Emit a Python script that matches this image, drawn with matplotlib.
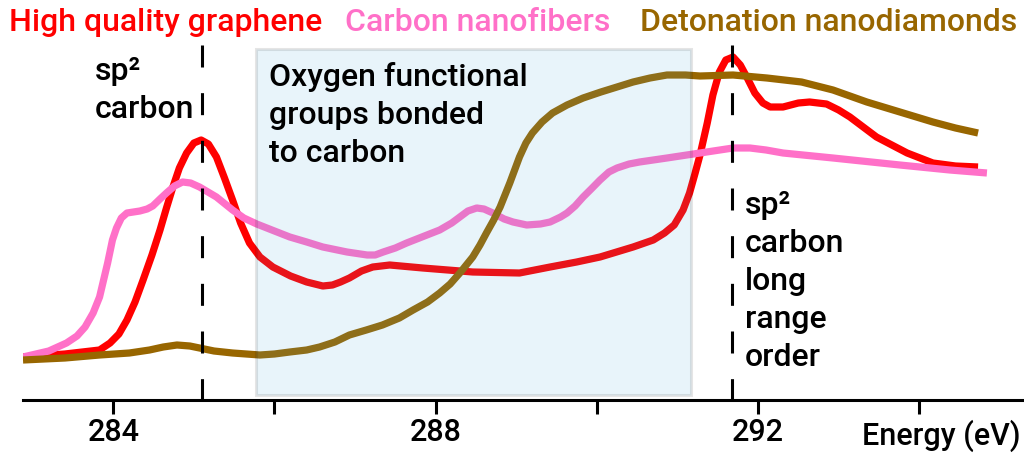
import matplotlib
matplotlib.use("Agg")
import matplotlib.pyplot as plt
from matplotlib.patches import Rectangle

# --- data (energy in eV, intensity in arbitrary units) ---
graphene_e = [282.88, 283.40, 283.83, 283.96, 284.07, 284.17, 284.27, 284.37, 284.48,
              284.58, 284.66, 284.74, 284.82, 284.91, 285.00, 285.09, 285.18, 285.28,
              285.38, 285.48, 285.58, 285.69, 285.82, 285.98, 286.20, 286.40, 286.60,
              286.72, 286.82, 286.93, 287.08, 287.22, 287.43, 287.84, 288.46, 289.04,
              289.42, 289.75, 290.04, 290.45, 290.70, 290.84, 290.96, 291.07, 291.15,
              291.22, 291.28, 291.37, 291.44, 291.52, 291.60, 291.69, 291.78, 291.86,
              291.96, 292.06, 292.15, 292.31, 292.50, 292.64, 292.85, 293.00, 293.14,
              293.47, 293.85, 294.17, 294.45, 294.73]
graphene_i = [43, 46, 50, 57, 66, 80, 98, 120, 145,
              170, 192, 213, 232, 247, 257, 260, 256, 243,
              222, 200, 177, 157, 143, 133, 124, 118, 114,
              115, 118, 122, 129, 133, 135, 132, 128, 127,
              133, 138, 143, 153, 160, 167, 175, 190, 207,
              227, 245, 277, 305, 328, 340, 343, 335, 323,
              307, 297, 293, 293, 297, 298, 296, 290, 283,
              263, 247, 237, 234, 233]

nanofiber_e = [282.88, 283.20, 283.42, 283.55, 283.65, 283.75, 283.83, 283.88, 283.93,
               283.99, 284.04, 284.10, 284.17, 284.25, 284.33, 284.42, 284.49, 284.58,
               284.66, 284.76, 284.86, 284.96, 285.07, 285.28, 285.48, 285.62, 285.78,
               286.00, 286.19, 286.40, 286.60, 286.90, 287.15, 287.25, 287.35, 287.50,
               287.64, 288.05, 288.20, 288.30, 288.40, 288.51, 288.60, 288.71, 288.85,
               288.96, 289.13, 289.30, 289.42, 289.55, 289.63, 289.73, 289.83, 289.93,
               290.04, 290.15, 290.25, 290.40, 290.53, 290.87, 291.28, 291.69, 291.90,
               292.10, 292.31, 292.93, 293.76, 294.38, 294.84]
nanofiber_i = [43, 49, 57, 64, 73, 87, 103, 120, 137,
               160, 172, 182, 187, 188, 189, 191, 194, 201,
               207, 214, 218, 217, 213, 203, 190, 182, 176,
               169, 163, 158, 153, 148, 145, 145, 148, 152,
               157, 170, 177, 183, 189, 192, 191, 187, 181,
               178, 175, 176, 178, 183, 187, 194, 203, 211,
               220, 228, 232, 236, 238, 242, 247, 252, 252,
               250, 247, 242, 235, 230, 227]

diamond_e = [282.88, 283.40, 283.83, 284.20, 284.45, 284.62, 284.79, 284.95, 285.07,
             285.25, 285.48, 285.82, 286.00, 286.19, 286.40, 286.56, 286.75, 286.93,
             287.14, 287.34, 287.55, 287.72, 287.90, 288.05, 288.18, 288.30, 288.38,
             288.46, 288.55, 288.63, 288.72, 288.80, 288.86, 288.92, 288.98, 289.04,
             289.12, 289.20, 289.32, 289.45, 289.63, 289.83, 290.05, 290.25, 290.45,
             290.66, 290.87, 291.10, 291.28, 291.69, 292.11, 292.54, 292.93, 293.35,
             293.76, 294.17, 294.45, 294.73]
diamond_i = [40, 42, 45, 47, 50, 53, 55, 54, 52,
             49, 47, 45, 46, 48, 50, 53, 58, 65,
             70, 75, 82, 90, 98, 107, 116, 127, 135,
             143, 155, 167, 180, 193, 205, 217, 230, 243,
             257, 267, 278, 287, 295, 302, 308, 313, 318,
             322, 325, 325, 324, 325, 322, 318, 310, 298,
             288, 278, 272, 267]

series_names = ["High quality graphene", "Carbon nanofibers", "Detonation nanodiamonds"]
series_colors = ["#ff0000", "#ff70c8", "#986600"]

tick_pos = [284, 286, 288, 290, 292, 294]
tick_lab = ["284", "", "288", "", "292", ""]

sp2_lines = [285.1, 291.68]
oxygen_span = (285.77, 291.17)

W, H = 1024, 454
plt.rcParams['font.family'] = ['Roboto', 'DejaVu Sans']
plt.rcParams['font.weight'] = 'medium'

fig = plt.figure(figsize=(W / 100, H / 100), dpi=100)
ax = fig.add_axes([23 / W, 54 / H, 1 - 23 / W, 400 / H])
ax.set_xlim(282.88, 295.3)
ax.set_ylim(0, 400)

lw = 5.2
ax.plot(graphene_e, graphene_i, color=series_colors[0], lw=lw,
        solid_joinstyle='round', solid_capstyle='butt', zorder=2)
ax.plot(nanofiber_e, nanofiber_i, color=series_colors[1], lw=lw,
        solid_joinstyle='round', solid_capstyle='butt', zorder=3)
ax.plot(diamond_e, diamond_i, color=series_colors[2], lw=lw,
        solid_joinstyle='round', solid_capstyle='butt', zorder=4)

# shaded region for oxygen groups (semi transparent over the curves)
ax.add_patch(Rectangle((oxygen_span[0], 5), oxygen_span[1] - oxygen_span[0], 346,
                       facecolor=(72 / 255, 168 / 255, 216 / 255, 0.12),
                       edgecolor=(0, 0, 0, 0.1), lw=2.2, zorder=5))

for xv in sp2_lines:
    ax.plot([xv, xv], [355, 0], color='black', lw=2.2,
            linestyle=(0, (7.2, 8.4)), zorder=6, dash_capstyle='butt')

for s in ['top', 'right', 'left']:
    ax.spines[s].set_visible(False)
ax.spines['bottom'].set_linewidth(2.2)
ax.set_yticks([])
ax.set_xticks(tick_pos)
ax.set_xticklabels(tick_lab)
ax.tick_params(axis='x', length=10, width=2.2, labelsize=22, pad=3)

fs = 23
def px_text(x, y, s, **kw):
    fig.text(x / W, 1 - y / H, s, fontsize=kw.pop('fontsize', fs), va='baseline', **kw)

# series titles
px_text(166, 31, series_names[0], color=series_colors[0], ha='center')
px_text(478, 31, series_names[1], color=series_colors[1], ha='center')
px_text(829, 31, series_names[2], color=series_colors[2], ha='center')

# annotations
for i, s in enumerate(["sp²", "carbon"]):
    px_text(95, 80 + 38 * i, s, color='black')
for i, s in enumerate(["Oxygen functional", "groups bonded", "to carbon"]):
    px_text(269, 86 + 38 * i, s, color='black')
for i, s in enumerate(["sp²", "carbon", "long", "range", "order"]):
    px_text(745, 214 + 38 * i, s, color='black')

px_text(941, 445, "Energy (eV)", color='black', ha='center', fontsize=22)

fig.savefig("out.png", dpi=100)
